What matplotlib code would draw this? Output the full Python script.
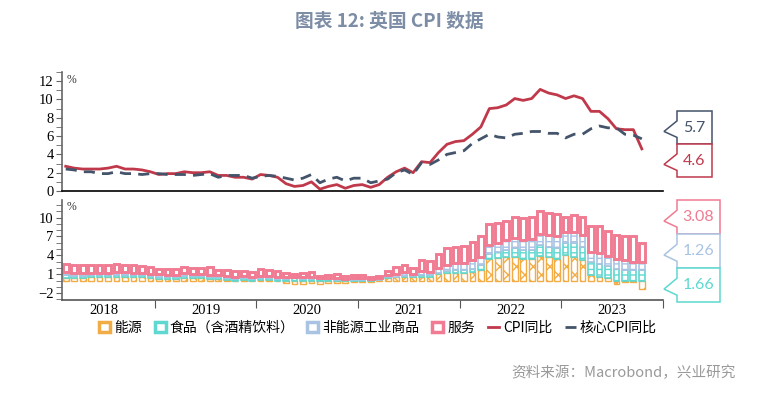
import matplotlib
matplotlib.use("Agg")
import matplotlib.pyplot as plt
from matplotlib.patches import Polygon, Patch
from matplotlib.lines import Line2D
from matplotlib.ticker import MultipleLocator, FixedLocator, NullFormatter
import numpy as np

plt.rcParams['font.family'] = ['Noto Sans CJK SC', 'DejaVu Sans']
plt.rcParams['hatch.linewidth'] = 1.0

W, H = 779, 393

# 月度数据：2018年2月 - 2023年10月
cpi = [2.7, 2.5, 2.4, 2.4, 2.4, 2.5, 2.7, 2.4, 2.4, 2.3, 2.1,
       1.8, 1.9, 1.9, 2.1, 2.0, 2.0, 2.1, 1.7, 1.7, 1.5, 1.5, 1.3,
       1.8, 1.7, 1.5, 0.8, 0.5, 0.6, 1.0, 0.2, 0.5, 0.7, 0.3, 0.6,
       0.7, 0.4, 0.7, 1.5, 2.1, 2.5, 2.0, 3.2, 3.1, 4.2, 5.1, 5.4,
       5.5, 6.2, 7.0, 9.0, 9.1, 9.4, 10.1, 9.9, 10.1, 11.1, 10.7, 10.5,
       10.1, 10.4, 10.1, 8.7, 8.7, 7.9, 6.8, 6.7, 6.7, 4.6]
core = [2.4, 2.3, 2.1, 2.1, 1.9, 1.9, 2.1, 1.9, 1.9, 1.8, 1.9,
        1.9, 1.8, 1.8, 1.8, 1.7, 1.8, 1.9, 1.5, 1.7, 1.7, 1.7, 1.4,
        1.6, 1.7, 1.6, 1.4, 1.2, 1.4, 1.8, 0.9, 1.3, 1.5, 1.1, 1.4,
        1.4, 0.9, 1.1, 1.3, 2.0, 2.3, 1.8, 3.1, 2.9, 3.4, 4.0, 4.2,
        4.4, 5.2, 5.7, 6.2, 5.9, 5.8, 6.2, 6.3, 6.5, 6.5, 6.3, 6.3,
        5.8, 6.2, 6.2, 6.8, 7.1, 6.9, 6.9, 6.2, 6.1, 5.7]
energy = [0.45, 0.4, 0.45, 0.5, 0.5, 0.5, 0.55, 0.55, 0.55, 0.5, 0.4,
          0.3, 0.25, 0.3, 0.4, 0.4, 0.35, 0.3, 0.2, 0.15, 0.0, 0.05, 0.0,
          0.1, 0.05, -0.05, -0.45, -0.6, -0.55, -0.4, -0.5, -0.45, -0.4, -0.35, -0.3,
          -0.25, -0.2, 0.05, 0.45, 0.55, 0.6, 0.6, 0.6, 0.6, 1.0, 1.2, 1.25,
          1.2, 1.3, 1.7, 3.4, 3.5, 3.8, 3.8, 3.4, 3.4, 3.9, 3.7, 3.4,
          4.0, 3.8, 3.3, 0.9, 0.6, 0.4, -0.5, -0.3, -0.3, -1.4]
food = [0.35, 0.3, 0.3, 0.3, 0.3, 0.3, 0.3, 0.3, 0.3, 0.3, 0.3,
        0.3, 0.3, 0.25, 0.3, 0.3, 0.3, 0.3, 0.3, 0.25, 0.25, 0.3, 0.3,
        0.3, 0.3, 0.3, 0.3, 0.35, 0.3, 0.2, 0.25, 0.2, 0.15, 0.1, 0.15,
        0.05, 0.05, 0.05, 0.05, 0.05, 0.1, 0.05, 0.2, 0.2, 0.2, 0.3, 0.4,
        0.5, 0.6, 0.7, 0.8, 1.0, 1.1, 1.3, 1.4, 1.5, 1.7, 1.7, 1.8,
        2.0, 2.1, 2.1, 2.0, 2.0, 1.9, 1.8, 1.7, 1.6, 1.66]
neig = [0.55, 0.5, 0.5, 0.45, 0.45, 0.45, 0.45, 0.45, 0.4, 0.4, 0.4,
        0.4, 0.4, 0.4, 0.45, 0.4, 0.4, 0.35, 0.35, 0.3, 0.3, 0.3, 0.25,
        0.3, 0.3, 0.3, 0.25, 0.2, 0.2, 0.3, 0.1, 0.25, 0.3, 0.15, 0.3,
        0.4, 0.2, 0.3, 0.35, 0.5, 0.6, 0.4, 0.7, 0.6, 0.8, 1.0, 1.1,
        1.1, 1.3, 1.4, 1.5, 1.5, 1.6, 1.7, 1.7, 1.7, 1.8, 1.8, 1.8,
        1.7, 1.8, 1.8, 1.7, 1.7, 1.6, 1.6, 1.5, 1.4, 1.26]
services = [1.35, 1.3, 1.15, 1.15, 1.15, 1.25, 1.4, 1.1, 1.15, 1.1, 1.0,
            0.8, 0.95, 0.95, 0.95, 0.9, 0.95, 1.15, 0.85, 1.0, 0.95, 0.85, 0.75,
            1.1, 1.05, 0.95, 0.7, 0.55, 0.65, 0.9, 0.35, 0.5, 0.65, 0.4, 0.45,
            0.5, 0.35, 0.3, 0.65, 1.0, 1.2, 0.95, 1.7, 1.7, 2.2, 2.6, 2.65,
            2.7, 3.0, 3.2, 3.3, 3.1, 2.9, 3.3, 3.4, 3.5, 3.7, 3.5, 3.5,
            2.4, 2.7, 2.9, 4.1, 4.4, 4.0, 3.9, 3.8, 4.0, 3.08]
years = ['2018', '2019', '2020', '2021', '2022', '2023']
first_month = 1  # 2018年2月（以2018年1月为0）

c_cpi = '#c0394b'
c_core = '#44546a'
c_energy = '#f2ac45'
c_food = '#5ed8d0'
c_neig = '#a9c3e3'
c_serv = '#f07b92'
serif = 'Liberation Serif'


def fx(px):
    return px / W


def fy(py):
    return 1 - py / H


fig = plt.figure(figsize=(W / 100, H / 100), dpi=100)
ax1 = fig.add_axes([fx(62), fy(191), fx(663) - fx(62), fy(72) - fy(191)])
ax2 = fig.add_axes([fx(62), fy(300), fx(663) - fx(62), fy(200) - fy(300)])

x = np.arange(len(cpi)) + first_month + 0.5
xlim = (first_month + 0.06, 12 * len(years))

# 上图：CPI 同比
ax1.plot(x, cpi, color=c_cpi, lw=2)
ax1.plot(x, core, color=c_core, lw=2, dashes=(4, 2.6))
ax1.set_xlim(*xlim)
ax1.set_ylim(0, 13)
ax1.set_xticks([])
ax1.yaxis.set_major_locator(MultipleLocator(2))
ax1.yaxis.set_minor_locator(MultipleLocator(1))

# 下图：分项拉动
parts = [(energy, c_energy, 'xx', 1.0), (food, c_food, '---', 1.2),
         (neig, c_neig, '---', 1.2), (services, c_serv, None, 2.1)]
pos_base = np.zeros(len(cpi))
neg_base = np.zeros(len(cpi))
for vals, col, hatch, lw in parts:
    v = np.array(vals)
    base = np.where(v >= 0, pos_base, neg_base)
    ax2.bar(x, v, width=0.68, bottom=base, facecolor='white', edgecolor=col,
            hatch=hatch, linewidth=lw)
    pos_base = pos_base + np.clip(v, 0, None)
    neg_base = neg_base + np.clip(v, None, 0)
ax2.set_xlim(*xlim)
ax2.set_ylim(-3.1, 12.8)
ax2.yaxis.set_major_locator(FixedLocator([-2, 1, 4, 7, 10]))
ax2.yaxis.set_minor_locator(MultipleLocator(1))
ax2.xaxis.set_major_locator(FixedLocator([12 * (k + 1) for k in range(len(years))]))
ax2.xaxis.set_major_formatter(NullFormatter())
ax2.xaxis.set_minor_locator(FixedLocator([12 * k + 6 for k in range(len(years))]))
ax2.set_xticklabels(years, minor=True)
ax2.tick_params(axis='x', which='major', length=6, color='#555555', direction='out')
ax2.tick_params(axis='x', which='minor', length=0, pad=3, labelsize=10.5,
                labelfontfamily=serif)

for ax in (ax1, ax2):
    for s in ('top', 'right'):
        ax.spines[s].set_visible(False)
    ax.spines['left'].set_color('#666666')
    ax.spines['left'].set_linewidth(1.2)
    ax.tick_params(axis='y', which='both', length=4, color='#666666', labelsize=10.5,
                   pad=2, labelfontfamily=serif)
    ax.text(0.008, 0.985, '%', transform=ax.transAxes, ha='left', va='top',
            fontsize=8.5, family=serif, color='#333333')
ax1.spines['bottom'].set_color('black')
ax1.spines['bottom'].set_linewidth(1.2)
ax2.spines['bottom'].set_color('#555555')
ax2.spines['bottom'].set_linewidth(1.2)


# 右侧标注框
def callout(top, bot, right, text, color):
    left, tip = 677, 664
    h = bot - top
    pts = [(left, top), (right, top), (right, bot), (left, bot),
           (left, top + 0.8 * h), (tip, top + 0.62 * h), (left, top + 0.3 * h)]
    poly = Polygon([(fx(a), fy(b)) for a, b in pts], closed=True, facecolor='white',
                   edgecolor=color, lw=1.1, transform=fig.transFigure)
    fig.add_artist(poly)
    fig.text(fx((left + right) / 2), fy((top + bot) / 2), text, ha='center', va='center',
             fontsize=11.5, color=color, family='Lato')


callout(111, 144, 712, f'{core[-1]:.1f}', c_core)
callout(144, 177, 712, f'{cpi[-1]:.1f}', c_cpi)
callout(200, 234, 720, f'{services[-1]:.2f}', c_serv)
callout(234, 268, 720, f'{neig[-1]:.2f}', c_neig)
callout(268, 302, 720, f'{food[-1]:.2f}', c_food)

# 图例
handles = [Patch(facecolor='white', edgecolor=c_energy, lw=2.5),
           Patch(facecolor='white', edgecolor=c_food, lw=2.5),
           Patch(facecolor='white', edgecolor=c_neig, lw=2.5),
           Patch(facecolor='white', edgecolor=c_serv, lw=2.5),
           Line2D([], [], color=c_cpi, lw=2),
           Line2D([], [], color=c_core, lw=2, dashes=(4, 2.6))]
labels = ['能源', '食品（含酒精饮料）', '非能源工业商品', '服务', 'CPI同比', '核心CPI同比']
fig.legend(handles, labels, loc='center', bbox_to_anchor=(fx(378), fy(328)), ncol=6,
           frameon=False, fontsize=10, handlelength=0.8, handleheight=0.8,
           handletextpad=0.3, columnspacing=0.9)

fig.text(0.5, fy(21), '图表 12: 英国 CPI 数据', ha='center', va='center', fontsize=13.5,
         fontweight='bold', color='#7d8da6')
fig.text(fx(736), fy(373), '资料来源：Macrobond，兴业研究', ha='right', va='center',
         fontsize=10.5, color='#999999')

fig.savefig('out.png', dpi=100, facecolor='white')
